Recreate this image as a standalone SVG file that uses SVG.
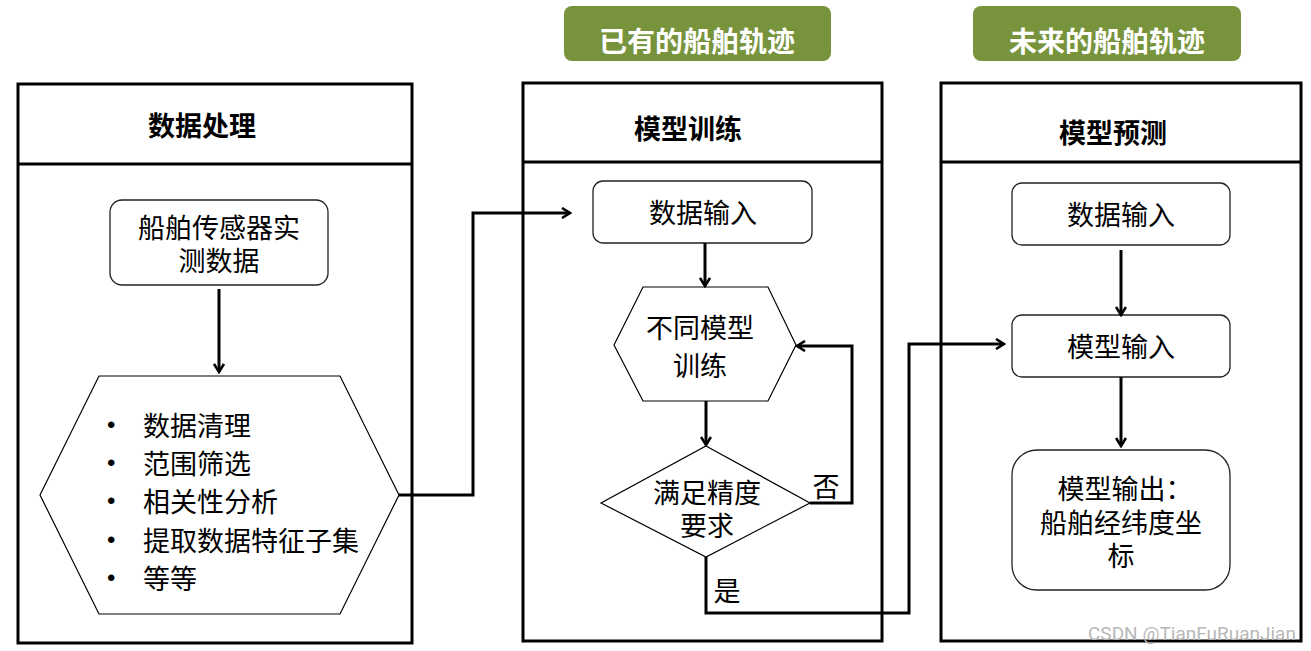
<svg xmlns="http://www.w3.org/2000/svg" width="1311" height="651" viewBox="0 0 1311 651">
<style>
.panel{fill:#fff;stroke:#000;stroke-width:3}
.box{fill:#fff;stroke:#222;stroke-width:1.3}
.shape{fill:#fff;stroke:#000;stroke-width:1.2}
.tag{fill:#77933C}
.t{font-family:"Noto Sans CJK SC","Noto Sans",sans-serif;font-size:27px;fill:#000;text-anchor:middle;dominant-baseline:central}
.h{font-family:"Noto Sans CJK SC","Noto Sans",sans-serif;font-size:27px;font-weight:bold;fill:#000;text-anchor:middle;dominant-baseline:central}
.tg{font-family:"Noto Sans CJK SC","Noto Sans",sans-serif;font-size:28px;font-weight:bold;fill:#fff;text-anchor:middle;dominant-baseline:central}
.b{font-family:"Noto Sans CJK SC","Noto Sans",sans-serif;font-size:27px;fill:#000;dominant-baseline:central}
.dot{font-family:"Liberation Sans",sans-serif;font-size:24px}
.c{fill:none;stroke:#000;stroke-width:3}
</style>
<defs>
<marker id="ah" markerWidth="12" markerHeight="12" viewBox="0 0 12 12" refX="10" refY="6" orient="auto" markerUnits="userSpaceOnUse">
<path d="M2,1 L10,6 L2,11" fill="none" stroke="#000" stroke-width="2.6"/>
</marker>
</defs>
<rect width="1311" height="651" fill="#fff"/>

<g id="tag-past">
<rect class="tag" x="564" y="6" width="267" height="55" rx="8"/>
<text class="tg" x="697" y="40">已有的船舶轨迹</text>
</g>
<g id="tag-future">
<rect class="tag" x="973" y="6" width="268" height="55" rx="8"/>
<text class="tg" x="1107" y="40">未来的船舶轨迹</text>
</g>

<g id="panel-data">
<rect class="panel" x="18" y="84" width="394" height="559"/>
<line x1="18" y1="164" x2="412" y2="164" stroke="#000" stroke-width="3"/>
<text class="h" x="202" y="124">数据处理</text>
</g>
<g id="panel-train">
<rect class="panel" x="523" y="83" width="359" height="558"/>
<line x1="523" y1="162" x2="882" y2="162" stroke="#000" stroke-width="3"/>
<text class="h" x="688" y="127">模型训练</text>
</g>
<g id="panel-predict">
<rect class="panel" x="941" y="83" width="360" height="558"/>
<line x1="941" y1="162" x2="1301" y2="162" stroke="#000" stroke-width="3"/>
<text class="h" x="1113" y="131">模型预测</text>
</g>

<g id="sensor">
<rect class="box" x="110" y="200" width="218" height="85" rx="12"/>
<text class="t"><tspan x="219" y="226">船舶传感器实</tspan><tspan x="219" y="259">测数据</tspan></text>
</g>

<g id="process">
<polygon class="shape" points="40,495 99,376 340,376 399,495 340,614 99,614"/>
<text class="b"><tspan class="dot" x="107" y="424">•</tspan><tspan x="143" y="424">数据清理</tspan><tspan class="dot" x="107" y="462">•</tspan><tspan x="143" y="462">范围筛选</tspan><tspan class="dot" x="107" y="500">•</tspan><tspan x="143" y="500">相关性分析</tspan><tspan class="dot" x="107" y="539">•</tspan><tspan x="143" y="539">提取数据特征子集</tspan><tspan class="dot" x="107" y="577">•</tspan><tspan x="143" y="577">等等</tspan></text>
</g>

<g id="train-input">
<rect class="box" x="593" y="181" width="219" height="62" rx="10"/>
<text class="t" x="703" y="211">数据输入</text>
</g>

<g id="train-models">
<polygon class="shape" points="614,345 643,287 768,287 796,345 768,401 643,401"/>
<text class="t"><tspan x="700" y="326">不同模型</tspan><tspan x="700" y="364">训练</tspan></text>
</g>

<g id="accuracy">
<polygon class="shape" points="706,446 810,503 706,557 601,503"/>
<text class="t"><tspan x="707" y="491">满足精度</tspan><tspan x="707" y="524">要求</tspan></text>
</g>

<g id="pred-input">
<rect class="box" x="1012" y="183" width="218" height="62" rx="10"/>
<text class="t" x="1121" y="213">数据输入</text>
</g>
<g id="pred-model">
<rect class="box" x="1012" y="315" width="218" height="62" rx="10"/>
<text class="t" x="1121" y="345">模型输入</text>
</g>
<g id="pred-output">
<rect class="box" x="1012" y="450" width="218" height="140" rx="25"/>
<text class="t"><tspan x="1125" y="487">模型输出：</tspan><tspan x="1121" y="521">船舶经纬度坐</tspan><tspan x="1121" y="554">标</tspan></text>
</g>

<g id="connectors">
<line class="c" x1="219" y1="289" x2="219" y2="372" marker-end="url(#ah)"/>
<polyline class="c" points="399,495 473,495 473,213 570,213" marker-end="url(#ah)"/>
<line class="c" x1="705" y1="243" x2="705" y2="286" marker-end="url(#ah)"/>
<line class="c" x1="706" y1="401" x2="706" y2="445" marker-end="url(#ah)"/>
<polyline class="c" points="810,503 852,503 852,346 797,346" marker-end="url(#ah)"/>
<polyline class="c" points="706,557 706,613 909,613 909,344 1004,344" marker-end="url(#ah)"/>
<line class="c" x1="1121" y1="250" x2="1121" y2="315" marker-end="url(#ah)"/>
<line class="c" x1="1121" y1="377" x2="1121" y2="446" marker-end="url(#ah)"/>
<text class="t" x="826" y="485" font-size="28">否</text>
<text class="t" x="727" y="589" font-size="28">是</text>
</g>

<text x="1088" y="640" font-family="Roboto,'Liberation Sans',sans-serif" font-size="19" fill="#b8b8b8">CSDN @TianFuRuanJian</text>
</svg>
